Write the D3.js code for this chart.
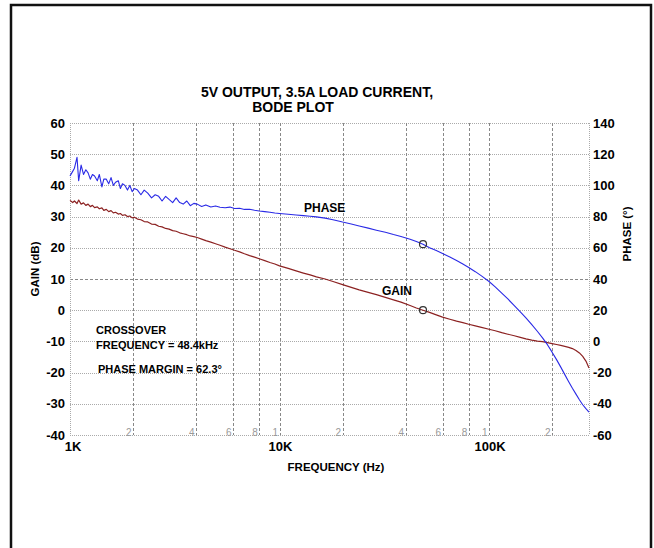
<!DOCTYPE html>
<html>
<head>
<meta charset="utf-8">
<script src="https://cdn.jsdelivr.net/npm/d3@7"></script>
<style>
  html, body { margin: 0; padding: 0; background: #fff; }
  svg { display: block; }
  text { font-family: "Liberation Sans", Arial, sans-serif; font-weight: bold; fill: #000; }
</style>
</head>
<body>
<svg id="chart" width="654" height="548"></svg>
<script>
// ---------- data ----------
const titleLines = ["5V OUTPUT, 3.5A LOAD CURRENT,", "BODE PLOT"];

const freqKHz = [
  1.00,1.03,1.05,1.08,1.10,1.13,1.16,1.19,1.22,1.25,
  1.28,1.31,1.35,1.38,1.42,1.45,1.49,1.53,1.57,1.61,
  1.65,1.70,1.74,1.78,1.83,1.88,1.93,1.98,2.03,2.10,
  2.18,2.26,2.35,2.45,2.55,2.65,2.75,2.86,2.97,3.09,
  3.21,3.34,3.47,3.61,3.75,3.90,4.05,4.25,4.45,4.70,
  4.95,5.20,5.50,5.80,6.10,6.45,6.80,7.20,7.60,8.00,
  8.50,9.00,9.50,10.0,
  11,12,13,14,15,16.5,18,20,22,24,
  26.5,29,32,35,38,42,45,48.4,52,56,
  60,65,70,75,80,86,92,100,107,115,
  123,132,141,150,160,170,180,190,200,210,
  220,230,240,250,260,270,280,290,300
];

const phaseDeg = [
  106,109,111,118,103,113,107,110,108,104,
  107,106,103,107,99,104,104,101,105,100,
  102,103,98,101,100,97,100,96,98,97,
  94,97,95,92,94,93,90,93,91,89,
  92,89,88,90,87,88.5,88,86.5,87.5,86.2,
  86.8,86,85.7,86.1,85.2,85.4,84.6,84.7,84.1,83.6,
  83.2,82.8,82.3,82,
  81.5,81,80.6,80.2,79.8,79,78,76.5,75.3,74,
  72.6,71.3,70,68.5,67.3,65.5,64,62.3,60.1,58.2,
  56.3,54.1,51.9,49.6,47.4,44.7,42.0,38.4,34.9,31.0,
  27.2,23.0,19.0,15.1,10.7,6.5,2.3,-2.1,-6.9,-11.7,
  -16.5,-21.3,-25.8,-30.0,-33.8,-37.4,-40.6,-43.1,-45.4
];

const gainDb = [
  35.2,34.5,35.0,34.2,35.3,34.0,34.4,33.6,34.0,33.2,
  33.6,32.9,33.1,32.5,32.8,32.0,32.3,31.6,31.9,31.2,
  31.4,30.8,31.0,30.4,30.6,30.0,30.2,29.6,29.8,29.2,
  29.0,28.4,28.3,27.6,27.5,26.9,26.7,26.2,26.0,25.5,
  25.3,24.8,24.5,24.2,23.8,23.6,23.3,22.8,22.3,21.8,
  21.3,20.8,20.2,19.7,19.2,18.7,18.1,17.5,17.0,16.5,
  15.9,15.3,14.8,14.2,
  13.4,12.6,11.9,11.3,10.7,10.0,9.2,8.2,7.3,6.5,
  5.7,5.0,4.1,3.3,2.6,1.5,0.7,0,-0.7,-1.5,
  -2.2,-2.9,-3.5,-4.0,-4.5,-5.0,-5.5,-6.1,-6.6,-7.2,
  -7.7,-8.2,-8.7,-9.2,-9.6,-9.9,-10.1,-10.4,-10.7,-11.0,
  -11.3,-11.6,-11.9,-12.3,-12.9,-13.7,-14.8,-16.3,-18.5
];

const crossoverKHz = 48.4;
const crossoverGain = 0;
const crossoverPhase = 62.3;

const gainTicks = [60, 50, 40, 30, 20, 10, 0, -10, -20, -30, -40];
const phaseTicks = [140, 120, 100, 80, 60, 40, 20, 0, -20, -40, -60];
const majorFreqs = [1000, 10000, 100000];
const majorFreqLabels = ["1K", "10K", "100K"];
const minorFreqs = [2000, 4000, 6000, 8000, 10000, 20000, 40000, 60000, 80000, 100000, 200000];
const minorFreqLabels = ["2", "4", "6", "8", "1", "2", "4", "6", "8", "1", "2"];
const noteLines = ["CROSSOVER", "FREQUENCY = 48.4kHz", "PHASE MARGIN = 62.3°"];

// ---------- layout ----------
const svg = d3.select("#chart");
const L = 70, R = 589, T = 123, B = 435;

const x = d3.scaleLog().domain([1000, 300000]).range([L, R]);
const yG = d3.scaleLinear().domain([-40, 60]).range([B, T]);
const yP = d3.scaleLinear().domain([-60, 140]).range([B, T]);

svg.append("rect").attr("width", 654).attr("height", 548).attr("fill", "#fff");

// outer frame
svg.append("rect")
  .attr("x", 11).attr("y", 5).attr("width", 640).attr("height", 620)
  .attr("fill", "none").attr("stroke", "#111").attr("stroke-width", 2.5);

// title
svg.append("text").attr("x", 317).attr("y", 97).attr("text-anchor", "middle")
  .attr("font-size", 14).text(titleLines[0]);
svg.append("text").attr("x", 293).attr("y", 112).attr("text-anchor", "middle")
  .attr("font-size", 14).text(titleLines[1]);

// horizontal grid
const grid = svg.append("g");
grid.selectAll("line.h").data(gainTicks).join("line")
  .attr("x1", L).attr("x2", R)
  .attr("y1", d => Math.round(yG(d)) + 0.5).attr("y2", d => Math.round(yG(d)) + 0.5)
  .attr("stroke", d => d === 10 ? "#888" : "#aaa")
  .attr("stroke-dasharray", d => d === 10 ? "3,2" : "1,1");

// vertical grid
grid.selectAll("line.v").data(minorFreqs).join("line")
  .attr("x1", d => Math.round(x(d)) + 0.5).attr("x2", d => Math.round(x(d)) + 0.5)
  .attr("y1", T).attr("y2", B)
  .attr("stroke", "#888").attr("stroke-dasharray", "3,2");

// plot borders (dotted)
grid.append("line").attr("x1", L + 0.5).attr("x2", L + 0.5).attr("y1", T).attr("y2", B)
  .attr("stroke", "#aaa").attr("stroke-dasharray", "1,1");
grid.append("line").attr("x1", R + 0.5).attr("x2", R + 0.5).attr("y1", T).attr("y2", B)
  .attr("stroke", "#aaa").attr("stroke-dasharray", "1,1");

// left axis labels
svg.append("g").selectAll("text").data(gainTicks).join("text")
  .attr("x", 65).attr("y", d => yG(d) + 4.5).attr("text-anchor", "end")
  .attr("font-size", 13).text(d => d);

// right axis labels
svg.append("g").selectAll("text").data(phaseTicks).join("text")
  .attr("x", 593).attr("y", d => yP(d) + 4.5).attr("text-anchor", "start")
  .attr("font-size", 13).text(d => d);

// major freq labels
svg.append("g").selectAll("text").data(majorFreqs).join("text")
  .attr("x", (d) => x(d) + (d === 1000 ? 3 : 1)).attr("y", 451).attr("text-anchor", "middle")
  .attr("font-size", 13).text((d, i) => majorFreqLabels[i]);

// minor freq labels
svg.append("g").selectAll("text").data(minorFreqs).join("text")
  .attr("x", d => x(d) - 1.5).attr("y", 436).attr("text-anchor", "end")
  .attr("font-size", 10).style("font-weight", "normal").style("fill", "#999")
  .text((d, i) => minorFreqLabels[i]);

// axis titles
svg.append("text").attr("x", 336).attr("y", 471).attr("text-anchor", "middle")
  .attr("font-size", 11.5).text("FREQUENCY (Hz)");
svg.append("text").attr("transform", "translate(39,269) rotate(-90)")
  .attr("text-anchor", "middle").attr("font-size", 11.5).text("GAIN (dB)");
svg.append("text").attr("transform", "translate(631,234) rotate(-90)")
  .attr("text-anchor", "middle").attr("font-size", 11.5).text("PHASE (°)");

// curves
const pts = freqKHz.map((f, i) => ({ f: f * 1000, g: gainDb[i], p: phaseDeg[i] }));
svg.append("path").datum(pts)
  .attr("fill", "none").attr("stroke", "#8c2222").attr("stroke-width", 1.2)
  .attr("stroke-linejoin", "round")
  .attr("d", d3.line().x(d => x(d.f)).y(d => yG(d.g)));
svg.append("path").datum(pts)
  .attr("fill", "none").attr("stroke", "#2a2ae6").attr("stroke-width", 1.1)
  .attr("stroke-linejoin", "round")
  .attr("d", d3.line().x(d => x(d.f)).y(d => yP(d.p)));

// crossover markers
svg.append("circle").attr("cx", x(crossoverKHz * 1000)).attr("cy", yG(crossoverGain)).attr("r", 3.5)
  .attr("fill", "none").attr("stroke", "#333").attr("stroke-width", 1.2);
svg.append("circle").attr("cx", x(crossoverKHz * 1000)).attr("cy", yP(crossoverPhase)).attr("r", 3.5)
  .attr("fill", "none").attr("stroke", "#333").attr("stroke-width", 1.2);

// curve labels
svg.append("text").attr("x", 304).attr("y", 212).attr("font-size", 12).text("PHASE");
svg.append("text").attr("x", 382).attr("y", 295).attr("font-size", 12).text("GAIN");

// notes
svg.append("text").attr("x", 96).attr("y", 334).attr("font-size", 11).text(noteLines[0]);
svg.append("text").attr("x", 96).attr("y", 349).attr("font-size", 11).text(noteLines[1]);
svg.append("text").attr("x", 98).attr("y", 373).attr("font-size", 11).text(noteLines[2]);
</script>
</body>
</html>
